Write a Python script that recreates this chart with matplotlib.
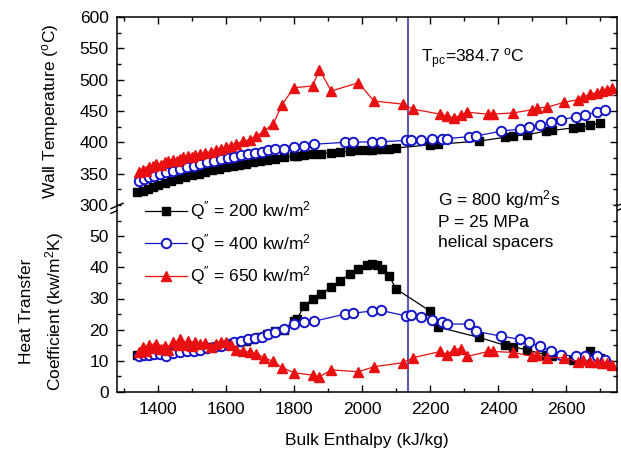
import matplotlib
matplotlib.use("Agg")
import matplotlib.pyplot as plt
from matplotlib.ticker import MultipleLocator

plt.rcParams['font.family'] = ['Liberation Sans', 'DejaVu Sans']
plt.rcParams['mathtext.fontset'] = 'custom'
plt.rcParams['mathtext.rm'] = 'Liberation Sans'
plt.rcParams['mathtext.it'] = 'Liberation Sans'
plt.rcParams['mathtext.bf'] = 'Liberation Sans:bold'

# ---------------- data ----------------
x200 = [1340, 1355, 1370, 1385, 1400, 1420, 1440, 1460, 1480, 1500, 1520, 1540, 1560, 1580,
        1600, 1620, 1640, 1660, 1680, 1700, 1720, 1745, 1770, 1800, 1810, 1830, 1855, 1880,
        1910, 1935, 1965, 1990, 2015, 2030, 2045, 2060, 2080, 2100, 2200, 2225, 2345, 2420,
        2445, 2485, 2540, 2560, 2620, 2640, 2672, 2700]
T200 = [320, 323, 326, 329, 332, 335, 338, 341, 345, 348, 350, 353, 356, 358,
        360, 362, 364, 366, 368, 370, 372, 374, 376, 378, 378, 380, 382, 382,
        383, 384, 386, 387, 388, 388, 389, 390, 390, 391, 396, 397, 402, 408,
        410, 412, 418, 419, 423, 424, 427, 431]
h200 = [12.0, 12.1, 12.3, 12.4, 12.5, 12.6, 12.8, 13.0, 13.2, 13.5, 13.7, 14.0, 14.3, 14.6,
        15.0, 15.5, 16.0, 16.5, 17.0, 17.5, 18.5, 19.5, 20.0, 22.7, 23.5, 27.6, 29.9, 31.5,
        33.8, 35.5, 38.0, 39.5, 40.9, 41.0, 40.6, 39.5, 37.3, 33.1, 26.0, 20.8, 17.5, 15.0,
        14.5, 13.5, 12.0, 11.5, 10.4, 10.5, 13.0, 11.0]

x400 = [1345, 1360, 1375, 1390, 1405, 1425, 1445, 1465, 1485, 1505, 1525, 1545, 1565, 1585,
        1605, 1625, 1645, 1665, 1685, 1705, 1725, 1745, 1770, 1800, 1830, 1860, 1950, 1975,
        2030, 2055, 2130, 2145, 2175, 2205, 2235, 2250, 2315, 2335, 2410, 2465, 2490, 2525,
        2555, 2585, 2630, 2655, 2690, 2715]
T400 = [338, 341, 344, 347, 349, 352, 355, 358, 361, 363, 366, 368, 371, 373,
        375, 377, 379, 381, 383, 385, 387, 389, 390, 392, 394, 397, 400, 400,
        401, 401, 403, 403, 404, 405, 406, 406, 409, 410, 418, 421, 424, 427,
        432, 436, 441, 444, 448, 452]
h400 = [11.4, 11.8, 12.0, 12.3, 12.2, 11.6, 12.5, 12.8, 13.0, 13.3, 13.6, 14.0, 14.3, 14.8,
        15.3, 16.0, 16.5, 16.9, 17.2, 17.5, 18.5, 19.2, 20.1, 21.8, 22.3, 22.7, 25.0, 25.3,
        26.0, 26.2, 24.4, 24.8, 24.0, 23.0, 22.4, 21.8, 21.8, 19.5, 17.9, 16.9, 15.9, 14.6,
        13.3, 12.0, 11.4, 11.4, 11.4, 10.4]

x650 = [1345, 1355, 1365, 1375, 1385, 1395, 1410, 1420, 1430, 1445, 1455, 1465, 1475, 1490,
        1500, 1510, 1525, 1540, 1555, 1570, 1585, 1600, 1615, 1630, 1650, 1670, 1690, 1712,
        1740, 1765, 1800, 1855, 1875, 1910, 1990, 2035, 2120, 2150, 2230, 2250, 2270, 2290,
        2310, 2370, 2385, 2445, 2500, 2515, 2545, 2595, 2635, 2650, 2670, 2690, 2705, 2720, 2735]
T650 = [352, 356, 355, 360, 362, 366, 364, 368, 370, 372, 370, 374, 376, 378,
        376, 380, 381, 383, 385, 387, 390, 392, 394, 397, 402, 404, 410, 418,
        430, 460, 487, 490, 516, 482, 495, 466, 461, 453, 445, 442, 439, 443,
        448, 445, 445, 447, 452, 455, 456, 464, 468, 472, 477, 479, 482, 484, 487]
h650 = [12.7, 14.5, 13.2, 15.0, 14.0, 15.5, 13.8, 14.8, 13.5, 16.0, 15.0, 16.9, 15.2, 16.3,
        14.8, 16.0, 15.3, 15.8, 14.5, 15.5, 16.2, 15.9, 15.2, 13.6, 13.2, 12.7, 12.3, 11.0,
        9.8, 7.8, 6.2, 5.4, 4.9, 7.1, 6.5, 8.1, 9.4, 11.0, 13.0, 12.0, 13.6, 13.9,
        11.4, 13.0, 13.0, 12.7, 11.4, 11.8, 11.0, 11.0, 9.7, 10.3, 9.7, 9.7, 9.2, 9.4, 8.8]

labels = [r"Q$^{\prime\prime}$ = 200 kw/m$^2$", r"Q$^{\prime\prime}$ = 400 kw/m$^2$",
          r"Q$^{\prime\prime}$ = 650 kw/m$^2$"]
x_pc = 2137

FS = 12.5

# ---------------- figure ----------------
W, H = 621, 455
fig = plt.figure(figsize=(W / 100, H / 100), dpi=100)
L, R = 117 / W, 617 / W
ymid = 1 - 205 / H
ax_t = fig.add_axes([L, ymid, R - L, (1 - 17 / H) - ymid])
ax_b = fig.add_axes([L, 1 - 392 / H, R - L, ymid - (1 - 392 / H)])

styles = [dict(color='black', marker='s', ms=6, mfc='black', mec='black', lw=0.9),
          dict(color='#1414c8', marker='o', ms=6.8, mfc='white', mec='#1414c8', mew=1.4, lw=0.9),
          dict(color='#e81010', marker='^', ms=7, mfc='#e81010', mec='#e81010', lw=0.9)]

for xs, ts, hs, st, lab in [(x200, T200, h200, styles[0], labels[0]),
                             (x400, T400, h400, styles[1], labels[1]),
                             (x650, T650, h650, styles[2], labels[2])]:
    ax_t.plot(xs, ts, **st)
    ax_b.plot(xs, hs, label=lab, **st)

for ax in (ax_t, ax_b):
    ax.axvline(x_pc, color='#3a3aa8', lw=1.2, zorder=0)
    ax.set_xlim(1280, 2750)
    ax.xaxis.set_major_locator(MultipleLocator(200))
    ax.xaxis.set_minor_locator(MultipleLocator(100))
    ax.tick_params(which='both', direction='in', labelsize=FS, width=1)
    ax.tick_params(which='major', length=5)
    ax.tick_params(which='minor', length=3)
    ax.tick_params(axis='y', pad=6)
    ax.tick_params(axis='x', pad=7)
    for s in ax.spines.values():
        s.set_linewidth(1.1)

ax_t.set_ylim(300, 600)
ax_t.yaxis.set_major_locator(MultipleLocator(50))
ax_t.yaxis.set_minor_locator(MultipleLocator(25))
ax_t.spines['bottom'].set_visible(False)
ax_t.tick_params(which='both', top=True, bottom=False, right=True, labelbottom=False)

ax_b.set_ylim(0, 60)
ax_b.set_yticks([0, 10, 20, 30, 40, 50])
ax_b.yaxis.set_minor_locator(MultipleLocator(5))
ax_b.spines['top'].set_visible(False)
ax_b.tick_params(which='both', top=False, bottom=True, right=True)

# break marks
d = 0.012
for xx in (0, 1):
    kw = dict(transform=ax_t.transAxes, color='black', lw=1.0, clip_on=False)
    ax_t.plot([xx - d, xx + d], [-0.005 - d * 1.2, -0.005 + d * 1.2], **kw)
    ax_t.plot([xx - d, xx + d], [-0.03 - d * 1.2, -0.03 + d * 1.2], **kw)

ax_t.set_ylabel("Wall Temperature ($^o$C)", fontsize=FS)
ax_t.yaxis.set_label_coords((61 - 117) / 500, 0.5)
ax_b.set_ylabel("Heat Transfer\nCoefficient (kw/m$^2$K)", fontsize=FS, linespacing=1.55)
ax_b.yaxis.set_label_coords((66 - 117) / 500, 0.43)
ax_b.set_xlabel("Bulk Enthalpy (kJ/kg)", fontsize=FS, labelpad=12)

ax_t.text(2175, 534, r"T$_{pc}$=384.7 $^o$C", fontsize=FS, va='center', ha='left')
fig.text(438 / W, 1 - 200 / H, "G = 800 kg/m$^2$s", fontsize=FS, va='center', ha='left')
fig.text(438 / W, 1 - 222 / H, "P = 25 MPa", fontsize=FS, va='center', ha='left')
fig.text(438 / W, 1 - 243 / H, "helical spacers", fontsize=FS, va='center', ha='left')

ax_b.legend(loc='upper left', bbox_to_anchor=((145 - 117) / 500, 1.03), frameon=False,
            fontsize=FS, handlelength=2.4, labelspacing=0.55, handletextpad=0.2,
            borderaxespad=0, borderpad=0)

fig.savefig("out.png", dpi=100)
